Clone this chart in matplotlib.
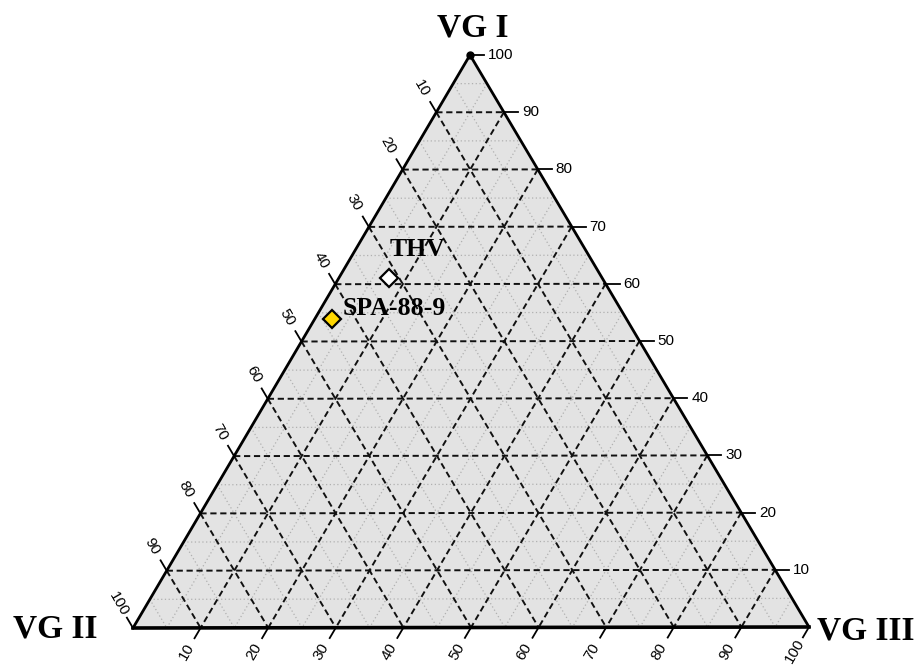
import matplotlib.pyplot as plt
import numpy as np

# samples (VG I, VG II, VG III in %)
names = ['THV', 'SPA-88-9']
vg1 = [61.0, 54.0]
vg2 = [31.5, 43.5]
vg3 = [7.5, 2.5]
face = ['white', '#ffd700']
ticks = [10, 20, 30, 40, 50, 60, 70, 80, 90, 100]

# triangle corners in pixel space (VG I top, VG II left, VG III right)
T = np.array([470.0, 55.0])
L = np.array([133.0, 628.0])
R = np.array([809.0, 627.0])


def tern(a, b, c):
    return (a * T + b * L + c * R) / 100.0


fig = plt.figure(figsize=(9.22, 6.66), dpi=100)
ax = fig.add_axes([0, 0, 1, 1])
ax.set_xlim(0, 922)
ax.set_ylim(666, 0)
ax.axis('off')

tri = np.array([T, L, R])
ax.fill(tri[:, 0], tri[:, 1], color='#e3e3e3', zorder=0)

# minor dotted grid
for v in np.arange(5, 100, 10):
    segs = [(tern(v, 100 - v, 0), tern(v, 0, 100 - v)),
            (tern(100 - v, v, 0), tern(0, v, 100 - v)),
            (tern(100 - v, 0, v), tern(0, 100 - v, v))]
    for p, q in segs:
        ax.plot([p[0], q[0]], [p[1], q[1]], color='#b0b0b0', lw=0.9,
                ls=(0, (1, 2)), zorder=1)

# major dashed grid
for v in range(10, 100, 10):
    segs = [(tern(v, 100 - v, 0), tern(v, 0, 100 - v)),
            (tern(100 - v, v, 0), tern(0, v, 100 - v)),
            (tern(100 - v, 0, v), tern(0, 100 - v, v))]
    for p, q in segs:
        ax.plot([p[0], q[0]], [p[1], q[1]], color='#111111', lw=1.4,
                ls=(0, (3.2, 1.9)), zorder=2)

# outline
ax.plot([T[0], L[0]], [T[1], L[1]], color='black', lw=2.0, zorder=3)
ax.plot([T[0], R[0]], [T[1], R[1]], color='black', lw=2.0, zorder=3)
ax.plot([L[0], R[0]], [L[1], R[1]], color='black', lw=2.6, zorder=3)
ax.plot(T[0], T[1], 'o', color='black', ms=5, zorder=4)

# ticks and labels
dl = (T - R) / np.linalg.norm(T - R)
db = (L - T) / np.linalg.norm(L - T)
dr = np.array([1.0, 0.0])
tfont = dict(fontsize=11, family='Liberation Sans')
for v in ticks:
    p = tern(v, 0, 100 - v)
    e = p + dr * 14
    ax.plot([p[0], e[0]], [p[1], e[1]], color='black', lw=1.3, zorder=3)
    ax.text(e[0] + 4, e[1], str(v), ha='left', va='center', **tfont)

    p = tern(100 - v, v, 0)
    e = p + dl * 12
    ax.plot([p[0], e[0]], [p[1], e[1]], color='black', lw=1.3, zorder=3)
    c = p + dl * 28
    ax.text(c[0], c[1], str(v), ha='center', va='center', rotation=-60,
            rotation_mode='anchor', **tfont)

    p = tern(0, 100 - v, v)
    e = p + db * 12
    ax.plot([p[0], e[0]], [p[1], e[1]], color='black', lw=1.3, zorder=3)
    c = p + db * 28
    ax.text(c[0], c[1], str(v), ha='center', va='center', rotation=60,
            rotation_mode='anchor', **tfont)

# corner titles
hfont = dict(fontsize=24, fontweight='bold', family='Liberation Serif')
ax.text(473, 28, 'VG I', ha='center', va='center', **hfont)
ax.text(55, 629, 'VG II', ha='center', va='center', **hfont)
ax.text(866, 631, 'VG III', ha='center', va='center', **hfont)

# samples
offs = [(0, 21), (8, 7)]
for i in range(len(names)):
    p = tern(vg1[i], vg2[i], vg3[i])
    ax.plot(p[0], p[1], 'D', ms=9, mfc=face[i], mec='black', mew=1.6, zorder=5)
    ax.annotate(names[i], xy=(p[0], p[1]), xytext=offs[i],
                textcoords='offset points', ha='left', va='center',
                fontsize=18.5, fontweight='bold', family='Liberation Serif',
                zorder=6)

fig.savefig('out.png', dpi=100)
